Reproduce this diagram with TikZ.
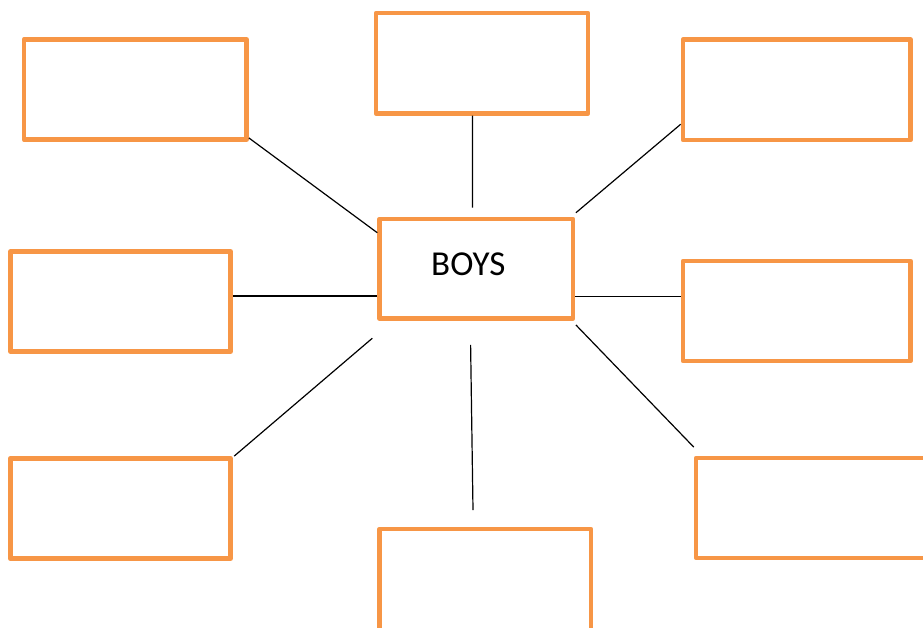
\documentclass[tikz,border=0pt]{standalone}
\usepackage{fontspec}
\setmainfont{Carlito}
\usepackage{tikz}
\usetikzlibrary{positioning}

\definecolor{boxorange}{HTML}{F79646}

\tikzset{
  blank/.style={draw=boxorange, line width=4.5pt, line join=round, rectangle, inner sep=0pt},
  spoke/.style={draw=black, line width=1.2pt}
}

\begin{document}
\begin{tikzpicture}[x=1pt, y=-1pt]
\useasboundingbox (0,0) rectangle (923,628);
\clip (0,0) rectangle (923,628);
% centre box
\node[blank, minimum width=193.5pt, minimum height=99.4pt,
      label={[xshift=-8pt, yshift=4pt, font=\fontsize{35}{42}\selectfont]center:BOYS}] (boys) at (476.3,268.7) {};
% outer boxes
\node[blank, minimum width=222.7pt, minimum height=100.4pt] (tl) at (135.3, 89.5) {};
\node[blank, minimum width=212pt,   minimum height=100.4pt] (tc) at (482.0, 63.2) {};
\node[blank, minimum width=227.7pt, minimum height=100.4pt] (tr) at (796.8, 89.8) {};
\node[blank, minimum width=220pt,   minimum height=100.4pt] (ml) at (120.6,301.5) {};
\node[blank, minimum width=227.7pt, minimum height=100pt]   (mr) at (796.8,311.0) {};
\node[blank, minimum width=220.4pt, minimum height=100.4pt] (bl) at (120.5,508.5) {};
\node[blank, minimum width=211.5pt, minimum height=103pt]   (bc) at (485.3,580.5) {};
\node[blank, minimum width=234pt,   minimum height=99.7pt]  (br) at (813.0,507.9) {};
% spokes
\draw[spoke] ([yshift=4pt]tl.south east) -- ([yshift=-16pt]boys.north west);
\draw[spoke] ([xshift=-9.6pt]tc.south) -- ([xshift=-3.9pt, yshift=9pt]boys.north);
\draw[spoke] ([yshift=18pt]tr.south west) -- ([xshift=0.6pt, yshift=4pt]boys.north east);
\draw[spoke] ([yshift=5.5pt]ml.east) -- ([yshift=-27.3pt]boys.west);
\draw[spoke] ([yshift=-27.6pt]boys.east) -- ([yshift=14.7pt]mr.west);
\draw[spoke] ([xshift=1.3pt]bl.north east) -- ([xshift=-5pt, yshift=-17.6pt]boys.south west);
\draw[spoke] ([xshift=-5.7pt, yshift=-24.3pt]boys.south) -- ([xshift=-12.3pt, yshift=16.7pt]bc.north);
\draw[spoke] ([xshift=0.6pt, yshift=-4.3pt]boys.south east) -- ([yshift=8.7pt]br.north west);
\end{tikzpicture}
\end{document}
